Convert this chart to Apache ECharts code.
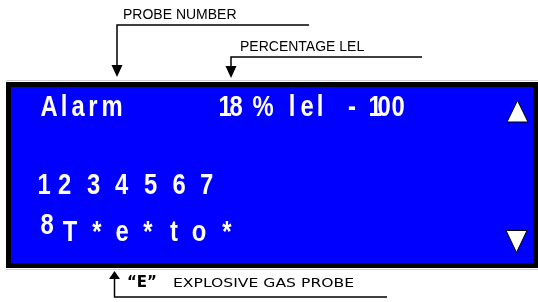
<!DOCTYPE html>
<html>
<head>
<meta charset="utf-8">
<script src="https://cdn.jsdelivr.net/npm/echarts@6/dist/echarts.min.js"></script>
<style>
html,body{margin:0;padding:0;background:#fff;}
#chart{width:538px;height:302px;}
</style>
</head>
<body>
<div id="chart"></div>
<script>
// ---- content (text shown on the LCD and its annotations) ----
var labelProbeNumber = 'PROBE NUMBER';
var labelPercentLel = 'PERCENTAGE LEL';
var labelProbeType = '“E”';
var labelProbeTypeText = 'EXPLOSIVE GAS PROBE';
var row1Left = ['A', 'l', 'a', 'r', 'm'];
var row1Right = ['1', '8', '%', 'l', 'e', 'l', '-', '1', '0', '0'];
var row3 = ['1', '2', '3', '4', '5', '6', '7'];
var row4Probe = ['8'];
var row4 = ['T', '*', 'e', '*', 't', 'o', '*'];

// ---- layout (positions only) ----
var row1LeftX = [49, 64, 78, 93, 112];
var row1RightX = [225, 236, 263, 292, 307, 320, 352, 375, 384, 398];
var row3X = [44, 64.5, 93.5, 121.5, 150.5, 179, 206.5];
var row4ProbeX = [47];
var row4X = [70, 97, 122, 148, 174, 199, 227];

var LCD_FONT = 'bold 29px "Liberation Sans", Arial, sans-serif';
var LCD_SCALE = 0.82;

function lcdChars(chars, xs, y) {
  return chars.map(function (c, i) {
    return {
      type: 'text', x: xs[i], y: y, scaleX: LCD_SCALE,
      style: { text: c, fill: '#fff', font: LCD_FONT, align: 'center', verticalAlign: 'middle' }
    };
  });
}

var elements = [];
// shadow lines
elements.push({ type: 'line', shape: { x1: 6, y1: 80.5, x2: 538, y2: 80.5 }, style: { stroke: '#cfcfcf', lineWidth: 1 } });
elements.push({ type: 'line', shape: { x1: 6, y1: 269.5, x2: 538, y2: 269.5 }, style: { stroke: '#cfcfcf', lineWidth: 1 } });
// LCD frame
elements.push({ type: 'rect', shape: { x: 6, y: 82, width: 532, height: 186 }, style: { fill: '#000' } });
elements.push({ type: 'rect', shape: { x: 11, y: 87, width: 522, height: 176 }, style: { fill: '#0000ff' } });

elements = elements.concat(lcdChars(row1Left, row1LeftX, 107.5));
elements = elements.concat(lcdChars(row1Right, row1RightX, 107.5));
elements = elements.concat(lcdChars(row3, row3X, 185.5));
elements = elements.concat(lcdChars(row4Probe, row4ProbeX, 225.5));
elements = elements.concat(lcdChars(row4, row4X, 232.5));

// scroll triangles
elements.push({ type: 'polygon', shape: { points: [[517.5, 100.5], [528, 122], [507, 122]] }, style: { fill: '#fff', stroke: '#000', lineWidth: 1 } });
elements.push({ type: 'polygon', shape: { points: [[506, 230.5], [527, 230.5], [516.5, 252.5]] }, style: { fill: '#fff', stroke: '#000', lineWidth: 1 } });

// top annotations
elements.push({ type: 'polyline', shape: { points: [[309, 25], [117, 25], [117, 66]] }, style: { stroke: '#000', lineWidth: 1.5, fill: null } });
elements.push({ type: 'polygon', shape: { points: [[111.5, 65], [122.5, 65], [117, 77]] }, style: { fill: '#000' } });
elements.push({ type: 'text', x: 123, y: 15, style: { text: labelProbeNumber, fill: '#000', font: '14px "Liberation Sans", Arial, sans-serif', align: 'left', verticalAlign: 'middle' } });

elements.push({ type: 'polyline', shape: { points: [[422, 57], [231, 57], [231, 67]] }, style: { stroke: '#000', lineWidth: 1.5, fill: null } });
elements.push({ type: 'polygon', shape: { points: [[225.5, 66], [236.5, 66], [231, 78]] }, style: { fill: '#000' } });
elements.push({ type: 'text', x: 240, y: 47.5, style: { text: labelPercentLel, fill: '#000', font: '14px "Liberation Sans", Arial, sans-serif', align: 'left', verticalAlign: 'middle' } });

// bottom annotation
elements.push({ type: 'polygon', shape: { points: [[114.5, 271], [120, 279], [109, 279]] }, style: { fill: '#000' } });
elements.push({ type: 'polyline', shape: { points: [[114.5, 278], [114.5, 297], [387, 297]] }, style: { stroke: '#000', lineWidth: 1.5, fill: null } });
elements.push({ type: 'text', x: 127, y: 283, style: { text: labelProbeType, fill: '#000', font: 'bold 15px "DejaVu Sans", sans-serif', align: 'left', verticalAlign: 'middle' } });
elements.push({ type: 'text', x: 173, y: 284, scaleX: 1.2, style: { text: labelProbeTypeText, fill: '#000', font: '13px "DejaVu Sans", sans-serif', align: 'left', verticalAlign: 'middle' } });

var chart = echarts.init(document.getElementById('chart'), null, { renderer: 'canvas' });
chart.setOption({
  backgroundColor: '#fff',
  animation: false,
  graphic: { elements: elements }
});
</script>
</body>
</html>
